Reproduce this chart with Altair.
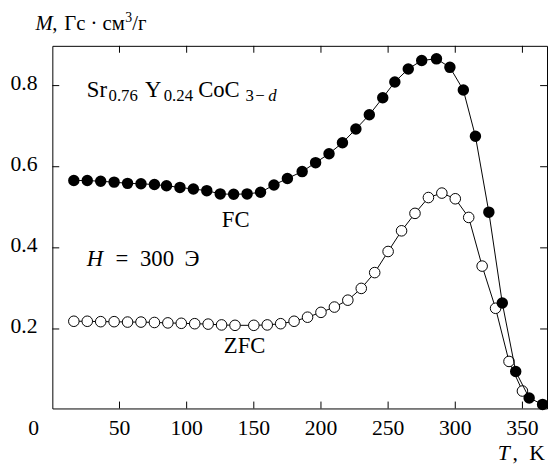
import altair as alt
import pandas as pd

# ---- data ----
FC_T = [16, 26, 36, 46, 56, 66, 76, 85, 95, 105, 115, 125, 135, 145, 155, 165, 175, 186,
        196, 206, 216, 226, 236, 246, 255, 265, 275, 286, 296, 306, 315, 325, 335, 345, 355, 365]
FC_M = [0.566, 0.566, 0.564, 0.562, 0.559, 0.558, 0.556, 0.553, 0.549, 0.545, 0.541, 0.533,
        0.532, 0.533, 0.537, 0.555, 0.571, 0.588, 0.610, 0.632, 0.659, 0.693, 0.728, 0.770,
        0.809, 0.841, 0.862, 0.866, 0.845, 0.789, 0.675, 0.488, 0.264, 0.095, 0.030, 0.014]

ZFC_T = [16, 26, 36, 46, 56, 66, 76, 86, 96, 106, 116, 126, 136, 150, 160, 170, 180, 190,
         200, 210, 220, 230, 240, 250, 260, 270, 280, 290, 300, 310, 320, 330, 340, 350]
ZFC_M = [0.219, 0.219, 0.218, 0.218, 0.217, 0.217, 0.216, 0.215, 0.214, 0.213, 0.212, 0.210,
         0.209, 0.209, 0.210, 0.213, 0.219, 0.229, 0.241, 0.254, 0.271, 0.300, 0.339, 0.391,
         0.442, 0.485, 0.524, 0.535, 0.521, 0.475, 0.355, 0.251, 0.120, 0.047]

X_TICKS = [50, 100, 150, 200, 250, 300, 350]
Y_TICKS = [0.2, 0.4, 0.6, 0.8]

W, H = 502, 368
SERIF = "Liberation Serif"
FS = 22

fc = pd.DataFrame({"T": FC_T, "M": FC_M})
zfc = pd.DataFrame({"T": ZFC_T, "M": ZFC_M})
xt = pd.DataFrame({"v": X_TICKS})
yt = pd.DataFrame({"v": Y_TICKS})
DUMMY = pd.DataFrame({"a": [0]})

x_scale = alt.Scale(domain=[0, 368.3], nice=False, zero=False)
y_scale = alt.Scale(domain=[0.004, 0.898], nice=False, zero=False)

X = lambda f: alt.X(f, scale=x_scale, axis=None)
Y = lambda f: alt.Y(f, scale=y_scale, axis=None)

zfc_line = alt.Chart(zfc).mark_line(color="black", strokeWidth=1).encode(x=X("T:Q"), y=Y("M:Q"))
zfc_pts = alt.Chart(zfc).mark_point(shape="circle", filled=True, fill="white", stroke="black",
                                    strokeWidth=1, size=115, opacity=1).encode(x=X("T:Q"), y=Y("M:Q"))
fc_line = alt.Chart(fc).mark_line(color="black", strokeWidth=1).encode(x=X("T:Q"), y=Y("M:Q"))
fc_pts = alt.Chart(fc).mark_circle(color="black", size=135, opacity=1).encode(x=X("T:Q"), y=Y("M:Q"))

# inward ticks on all four sides
TL = 7
tick_b = alt.Chart(xt).mark_rule(color="black", strokeWidth=1).encode(
    x=X("v:Q"), y=alt.value(H), y2=alt.value(H - TL))
tick_t = alt.Chart(xt).mark_rule(color="black", strokeWidth=1).encode(
    x=X("v:Q"), y=alt.value(0), y2=alt.value(TL))
tick_l = alt.Chart(yt).mark_rule(color="black", strokeWidth=1).encode(
    y=Y("v:Q"), x=alt.value(0), x2=alt.value(TL))
tick_r = alt.Chart(yt).mark_rule(color="black", strokeWidth=1).encode(
    y=Y("v:Q"), x=alt.value(W), x2=alt.value(W - TL))

# tick labels (serif, drawn through the scales)
xlab = alt.Chart(xt).mark_text(font=SERIF, fontSize=FS, align="center", baseline="alphabetic",
                               color="black").encode(
    x=X("v:Q"), y=alt.value(H + 27), text=alt.Text("v:Q", format="d"))
ylab = alt.Chart(yt).mark_text(font=SERIF, fontSize=FS, align="right", baseline="alphabetic",
                               color="black", dy=4).encode(
    y=Y("v:Q"), x=alt.value(-15), text=alt.Text("v:Q", format=".1f"))
zero_lbl = alt.Chart(DUMMY).mark_text(
    text="0", font=SERIF, fontSize=FS, align="center", baseline="alphabetic",
    color="black", dx=-19).encode(x=alt.X(datum=0, scale=x_scale, axis=None), y=alt.value(H + 27))


def txt(s, x, y, size=FS, style="normal", align="left"):
    return alt.Chart(DUMMY).mark_text(
        text=s, font=SERIF, fontSize=size, fontStyle=style, align=align,
        baseline="alphabetic", color="black").encode(x=alt.value(x), y=alt.value(y))


MS, SS = 23, 17
texts = [
    # y title
    txt("M", -17, -16, size=21, style="italic"),
    txt(",", 0, -16, size=21),
    txt("Гс · см", 12, -16, size=21),
    txt("3", 74, -24, size=14),
    txt("/г", 81, -16, size=21),
    # formula
    txt("Sr", 35, 52, size=MS),
    txt("0.76", 57, 56, size=SS),
    txt("Y", 94, 52, size=MS),
    txt("0.24", 113, 56, size=SS),
    txt("CoC", 148, 52, size=MS),
    txt("3", 196, 56, size=SS),
    txt("−", 206, 56, size=SS),
    txt("d", 219, 56, size=SS, style="italic"),
    # field
    txt("H", 35, 223, size=MS, style="italic"),
    txt("=", 64, 223, size=MS),
    txt("300", 89, 223, size=MS),
    txt("Э", 134, 223, size=MS),
    # curve labels
    txt("FC", 172, 184, size=MS),
    txt("ZFC", 174, 312, size=MS),
    # x title
    txt("T", 452, 420, style="italic"),
    txt(",", 467, 420),
    txt("K", 484, 420),
]

chart = alt.layer(
    tick_b, tick_t, tick_l, tick_r,
    zfc_line, zfc_pts, fc_line, fc_pts,
    xlab, ylab, zero_lbl,
    *texts,
).properties(
    width=W, height=H,
    autosize=alt.AutoSizeParams(type="none"),
    padding={"left": 45, "top": 35, "right": 1, "bottom": 57},
    background="white",
).configure_view(stroke="black", strokeWidth=1)

chart.save("out.html", embed_options={"renderer": "svg", "actions": False})
